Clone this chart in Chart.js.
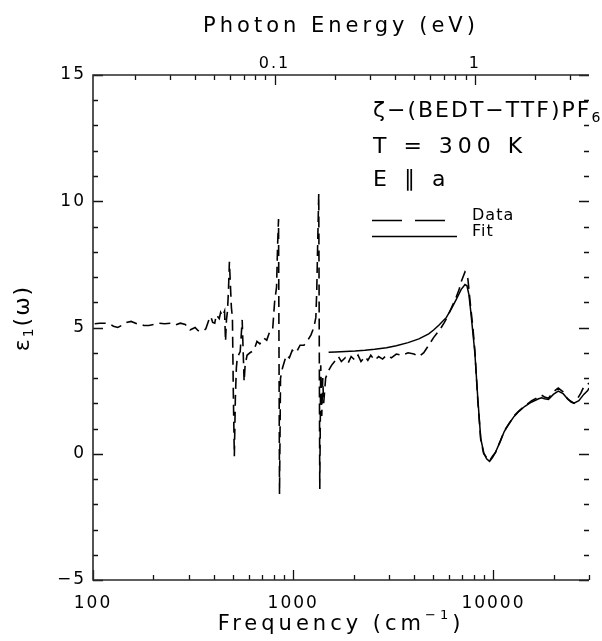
<!DOCTYPE html>
<html>
<head>
<meta charset="utf-8">
<title>zeta-(BEDT-TTF)PF6 dielectric function</title>
<script src="https://cdn.jsdelivr.net/npm/chart.js@4.4.1/dist/chart.umd.min.js"></script>
<style>
html,body{margin:0;padding:0;background:#ffffff;}
#box{position:relative;width:602px;height:641px;}
</style>
</head>
<body>
<div id="box"><canvas id="chart" width="602" height="641"></canvas></div>
<script>
// ---- values (frequency in cm^-1, epsilon_1) ----
const dataFreq = [102,108,114.5,121,126.5,133,139,147,155,166,180,190,201,213,228,244,258,273,289,305,323.5,334.5,354,366,379,387.5,396,405.5,413,427,434,444,454,459,464,469.5,475,480,485.5,491,497,502,508,514,520,525.5,543.5,556,568.5,575,588,608.5,637,659,681,713,737.5,763,789,807,825.5,835,844.5,854,864,884,903.5,924,956,989,1034,1082,1132,1184,1225,1268,1297,1311,1326,1341,1357,1372,1388,1404,1419,1452,1502,1553,1625,1681,1739,1819,1882,1946,2037,2107,2179,2280,2358,2440,2552,2670,2794,2923,3092,3271,3501,3746,4009,4242,4487,4749,5023,5256,5437,5688,5950,6225,6512,6736,6890,7047,7208,7373,7457,7628,7890,8072,8351,8640,8937,9138,9346,9558,9888,10230,10820,11320,11980,12680,13410,14350,15530,16810,17390,17990,18820,19910,21060,22280,23310,24400,25240,26110,27310,28250,29560,30000];
const dataEps  = [5.15,5.17,5.17,5.15,5.05,5.0,5.08,5.2,5.24,5.15,5.08,5.08,5.12,5.17,5.15,5.17,5.1,5.17,5.12,4.9,5.0,4.88,4.85,4.95,5.3,5.44,5.2,5.17,5.5,5.35,5.6,5.45,5.65,4.45,5.3,5.65,6.5,7.6,6.7,5.8,5.37,2.46,-0.1,2.2,3.4,3.8,4.05,5.3,2.86,3.5,3.9,4.0,4.1,4.45,4.35,4.58,4.5,4.84,4.9,6.0,6.6,8.2,9.3,-1.6,3.0,3.4,3.65,3.9,3.8,4.1,4.0,4.3,4.3,4.5,4.7,5.0,5.4,6.5,8.5,10.3,-1.4,3.5,1.5,3.0,2.0,3.0,3.3,3.5,3.7,3.85,3.65,3.8,3.6,3.85,3.7,3.9,3.65,3.85,3.7,3.9,3.7,3.85,3.75,3.9,3.8,3.95,3.9,4.0,3.95,3.85,4.0,4.3,4.6,4.8,4.95,5.2,5.5,5.85,6.2,6.5,6.8,7.0,7.2,7.1,6.9,6.1,5.0,4.1,2.1,0.55,0.0,-0.1,-0.2,-0.28,-0.1,0.05,0.5,0.9,1.2,1.5,1.7,1.9,2.1,2.25,2.32,2.25,2.2,2.45,2.6,2.45,2.2,2.05,2.0,2.15,2.4,2.65,2.75,2.8];
const fitFreq  = [1502,1625,1819,2037,2280,2552,2923,3271,3746,4242,4749,5023,5350,5820,6170,6512,6890,7208,7373,7540,7710,7890,8072,8351,8640,8937,9240,9558,9888,10230,10820,11320,11980,12680,13410,14350,15530,16810,17390,17990,18820,19910,21060,22280,23580,25240,26700,28250,29560,30000];
const fitEps   = [4.02,4.03,4.05,4.07,4.1,4.14,4.2,4.28,4.4,4.55,4.75,4.9,5.1,5.4,5.75,6.1,6.5,6.7,6.65,6.3,5.6,4.8,4.0,2.2,0.6,0.05,-0.2,-0.3,-0.15,0.05,0.5,0.88,1.2,1.48,1.68,1.88,2.05,2.18,2.22,2.18,2.15,2.35,2.48,2.38,2.15,2.0,2.1,2.35,2.5,2.6];

const xLabelValues   = [100, 1000, 10000];
const xTickLabels    = ['100', '1000', '10000'];
const topLabelValues = [0.1, 1];
const topTickLabels  = ['0.1', '1'];
const yLabelValues   = [-5, 0, 5, 10, 15];
const yTickLabels    = ['\u22125', '0', '5', '10', '15'];

const X_MIN = 100, X_MAX = 30000;
const CM_PER_EV = 8065.54;
const FONT = '"DejaVu Sans", "Liberation Sans", sans-serif';

function logTickValues(min, max) {
  const out = [];
  for (let e = Math.floor(Math.log10(min)); e <= Math.ceil(Math.log10(max)); e++) {
    for (let m = 1; m < 10; m++) {
      const v = parseFloat((m * Math.pow(10, e)).toPrecision(6));
      if (v >= min * 0.9999 && v <= max * 1.0001) out.push(v);
    }
  }
  return out;
}
function isDecade(v) { const l = Math.log10(v); return Math.abs(l - Math.round(l)) < 1e-6; }

function richText(ctx, parts, x, y, align) {
  let total = 0;
  parts.forEach(p => { ctx.font = p.size + 'px ' + FONT; total += ctx.measureText(p.t).width; });
  let cx = align === 'center' ? x - total / 2 : x;
  ctx.textAlign = 'left';
  parts.forEach(p => {
    ctx.font = p.size + 'px ' + FONT;
    ctx.fillText(p.t, cx, y + (p.dy || 0));
    cx += ctx.measureText(p.t).width;
  });
}

const decorations = {
  id: 'decorations',
  beforeDraw(chart) { chart.ctx.letterSpacing = '2px'; },
  beforeDatasetsDraw(chart) { chart.ctx.letterSpacing = '0px'; },
  afterDraw(chart) {
    const ctx = chart.ctx, a = chart.chartArea;
    const xs = chart.scales.x, xt = chart.scales.x2, ys = chart.scales.y;
    ctx.save();
    ctx.strokeStyle = '#111';
    ctx.lineWidth = 1.3;
    ctx.setLineDash([]);
    ctx.beginPath();
    xs.ticks.forEach(t => {
      const px = Math.round(xs.getPixelForValue(t.value)) + 0.5;
      const L = isDecade(t.value) ? 10 : 5;
      ctx.moveTo(px, a.bottom); ctx.lineTo(px, a.bottom - L);
    });
    xt.ticks.forEach(t => {
      const px = Math.round(xt.getPixelForValue(t.value)) + 0.5;
      const L = isDecade(t.value) ? 10 : 5;
      ctx.moveTo(px, a.top); ctx.lineTo(px, a.top + L);
    });
    ys.ticks.forEach(t => {
      const py = Math.round(ys.getPixelForValue(t.value)) + 0.5;
      const L = (t.value % 5 === 0) ? 10 : 5;
      ctx.moveTo(a.left, py); ctx.lineTo(a.left + L, py);
      ctx.moveTo(a.right, py); ctx.lineTo(a.right - L, py);
    });
    ctx.stroke();
    // frame (right edge falls at the canvas border)
    ctx.lineWidth = 1.6;
    ctx.strokeStyle = '#2a2a2a';
    ctx.beginPath();
    ctx.moveTo(a.right, a.top); ctx.lineTo(a.left, a.top); ctx.lineTo(a.left, a.bottom); ctx.lineTo(a.right, a.bottom);
    ctx.stroke();

    // axis titles
    const cx = (a.left + a.right) / 2;
    ctx.fillStyle = '#000';
    ctx.textBaseline = 'middle';
    ctx.letterSpacing = '4px';
    richText(ctx, [{t: 'Photon Energy (eV)', size: 21}], cx, 27, 'center');
    richText(ctx, [{t: 'Frequency (cm', size: 21}, {t: '\u22121', size: 13, dy: -9}, {t: ')', size: 21}], cx, 625, 'center');
    ctx.save();
    ctx.translate(23, 318);
    ctx.rotate(-Math.PI / 2);
    ctx.letterSpacing = '2px';
    richText(ctx, [{t: '\u03b5', size: 22}, {t: '1', size: 14, dy: 6}, {t: '(\u03c9)', size: 22}], 0, 0, 'center');
    ctx.restore();

    // annotation
    ctx.letterSpacing = '2px';
    richText(ctx, [{t: '\u03b6\u2212(BEDT\u2212TTF)PF', size: 22}, {t: '6', size: 14, dy: 7}], 373, 111, 'left');
    ctx.letterSpacing = '5px';
    richText(ctx, [{t: 'T = 300 K', size: 22}], 373, 147, 'left');
    richText(ctx, [{t: 'E \u2225 a', size: 22}], 373, 180, 'left');
    ctx.letterSpacing = '1px';
    richText(ctx, [{t: 'Data', size: 16}], 472, 216, 'left');
    richText(ctx, [{t: 'Fit', size: 16}], 472, 232, 'left');
    ctx.letterSpacing = '0px';
    // legend samples
    ctx.lineWidth = 1.5;
    ctx.strokeStyle = '#000';
    ctx.setLineDash([30, 13]);
    ctx.beginPath(); ctx.moveTo(372, 220.5); ctx.lineTo(446, 220.5); ctx.stroke();
    ctx.setLineDash([]);
    ctx.beginPath(); ctx.moveTo(372, 236.5); ctx.lineTo(457, 236.5); ctx.stroke();
    ctx.restore();
  }
};

const tickFont = {family: FONT, size: 17};

new Chart(document.getElementById('chart'), {
  type: 'line',
  data: {
    datasets: [
      {
        label: 'Data',
        data: dataFreq.map((f, i) => ({x: f, y: dataEps[i]})),
        borderColor: '#000', borderWidth: 1.6, borderDash: [11, 6],
        pointRadius: 0, fill: false, tension: 0, xAxisID: 'x', yAxisID: 'y'
      },
      {
        label: 'Fit',
        data: fitFreq.map((f, i) => ({x: f, y: fitEps[i]})),
        borderColor: '#000', borderWidth: 1.5,
        pointRadius: 0, fill: false, tension: 0, xAxisID: 'x', yAxisID: 'y'
      }
    ]
  },
  options: {
    responsive: false,
    animation: false,
    devicePixelRatio: 1,
    layout: {padding: 0},
    plugins: {legend: {display: false}, tooltip: {enabled: false}},
    scales: {
      x: {
        type: 'logarithmic', position: 'bottom', min: X_MIN, max: X_MAX,
        afterBuildTicks: s => { s.ticks = logTickValues(X_MIN, X_MAX).map(v => ({value: v, major: isDecade(v)})); },
        afterFit: s => { s.height = 61; },
        grid: {display: false, drawTicks: false},
        border: {display: false},
        ticks: {
          autoSkip: false, maxRotation: 0, padding: 13, color: '#000', font: tickFont,
          callback: v => { const i = xLabelValues.indexOf(v); return i >= 0 ? xTickLabels[i] : ''; }
        }
      },
      x2: {
        type: 'logarithmic', position: 'top', min: X_MIN / CM_PER_EV, max: X_MAX / CM_PER_EV,
        afterBuildTicks: s => { s.ticks = logTickValues(X_MIN / CM_PER_EV, X_MAX / CM_PER_EV).map(v => ({value: v, major: isDecade(v)})); },
        afterFit: s => { s.height = 75; },
        grid: {display: false, drawTicks: false},
        border: {display: false},
        ticks: {
          autoSkip: false, maxRotation: 0, padding: 2, color: '#000', font: {family: FONT, size: 16},
          callback: v => { const i = topLabelValues.findIndex(t => Math.abs(t - v) < 1e-9); return i >= 0 ? topTickLabels[i] : ''; }
        }
      },
      y: {
        type: 'linear', position: 'left', min: -5, max: 15,
        afterFit: s => { s.width = 93; },
        grid: {display: false, drawTicks: false},
        border: {display: false},
        ticks: {
          stepSize: 1, autoSkip: false, padding: 7, color: '#000', font: tickFont,
          callback: v => { const i = yLabelValues.indexOf(v); return i >= 0 ? yTickLabels[i] : ''; }
        }
      }
    }
  },
  plugins: [decorations]
});
</script>
</body>
</html>
